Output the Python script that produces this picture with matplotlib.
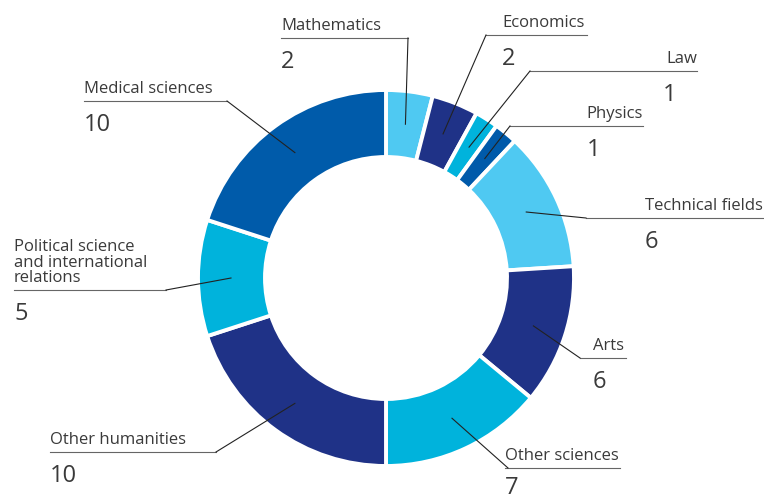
import matplotlib
matplotlib.use("Agg")
import matplotlib.pyplot as plt
import numpy as np

categories = ["Mathematics", "Economics", "Law", "Physics", "Technical fields", "Arts",
              "Other sciences", "Other humanities",
              "Political science\nand international\nrelations", "Medical sciences"]
values = [2, 2, 1, 1, 6, 6, 7, 10, 5, 10]
colors = ["#4fc9f2", "#1f3287", "#00b3dc", "#005aaa", "#4fc9f2", "#1f3287",
          "#00b3dc", "#1f3287", "#00b3dc", "#005baa"]

# label layout (pixel coords, y from top)
label_layout = [
    dict(tx=281, ly=38, x1=281, x2=408, ex=408, ha="left", ng=12),
    dict(tx=502, ly=35, x1=486, x2=587, ex=486, ha="left", ng=12),
    dict(tx=663, ly=71, x1=530, x2=697, ex=530, ha="right", ng=12),
    dict(tx=587, ly=126, x1=510, x2=643, ex=510, ha="right", ng=12),
    dict(tx=645, ly=218, x1=586, x2=764, ex=586, ha="left", ng=12),
    dict(tx=593, ly=358, x1=580, x2=626, ex=580, ha="left", ng=12),
    dict(tx=505, ly=468, x1=505, x2=620, ex=508, ha="left", ng=8),
    dict(tx=50, ly=452, x1=50, x2=216, ex=216, ha="left", ng=12),
    dict(tx=14, ly=290, x1=14, x2=166, ex=166, ha="left", ng=12),
    dict(tx=84, ly=101, x1=84, x2=227, ex=227, ha="left", ng=12),
]

W, H = 764, 499
CX, CY = 386, 278
R_OUT, R_IN = 188, 121

fig = plt.figure(figsize=(W / 100, H / 100), dpi=100)
ax = fig.add_axes([0, 0, 1, 1])
ax.pie(values, colors=colors, startangle=90, counterclock=False,
       center=(CX, H - CY), radius=R_OUT,
       wedgeprops=dict(width=R_OUT - R_IN, edgecolor="white", linewidth=2.8))
ax.set_xlim(0, W)
ax.set_ylim(0, H)
ax.set_aspect("equal")
ax.axis("off")

font = "Open Sans"
tcol = "#3a3a3a"
total = sum(values)
cum = np.cumsum([0] + values)
for i, (cat, v, lay) in enumerate(zip(categories, values, label_layout)):
    mid = (cum[i] + v / 2) / total * 2 * np.pi
    r_anchor = 155
    axp = CX + r_anchor * np.sin(mid)
    ayp = CY - r_anchor * np.cos(mid)
    ly = lay["ly"]
    ax.plot([lay["x1"], lay["x2"]], [H - ly, H - ly], color="#666666", lw=0.8)
    ax.plot([lay["ex"], axp], [H - ly, H - ayp], color="#222222", lw=0.8)
    if lay["ha"] == "left":
        ax.text(lay["tx"], H - ly + 4, cat, ha="left", va="bottom", fontsize=12,
                family=font, color=tcol, linespacing=0.95)
    else:
        ax.text(lay["x2"], H - ly + 4, cat, ha="right", va="bottom", fontsize=12,
                family=font, color=tcol, linespacing=0.95)
    ax.text(lay["tx"], H - ly - lay["ng"], str(v), ha="left", va="top",
            fontsize=17, family=font, color=tcol)

fig.savefig("out.png", dpi=100)
